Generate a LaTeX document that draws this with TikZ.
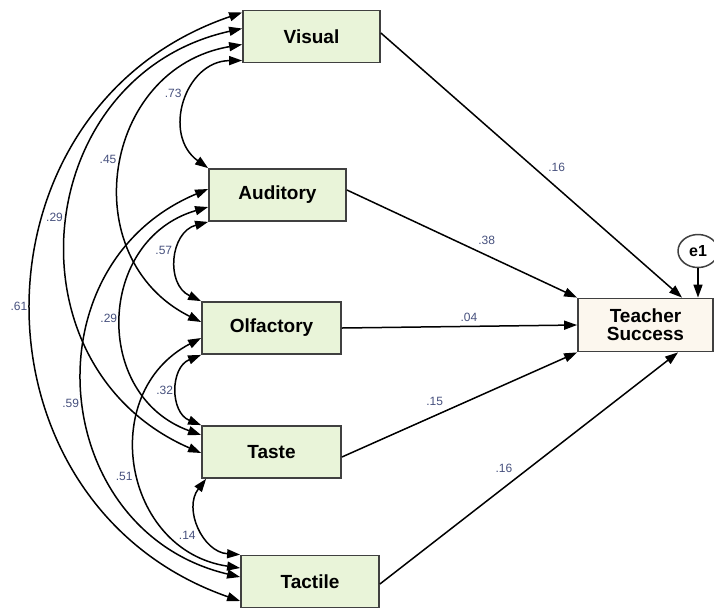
\documentclass[tikz,border=0pt]{standalone}
\usepackage{fontspec}
\setmainfont{Liberation Sans}
\usetikzlibrary{arrows.meta,shapes.geometric}

\definecolor{boxgreen}{RGB}{233,244,217}
\definecolor{boxcream}{RGB}{252,247,238}
\definecolor{lblblue}{RGB}{70,80,125}

\tikzset{
  var/.style={draw=black!75, line width=1.8pt, fill=boxgreen, minimum width=137pt,
    minimum height=52pt, inner sep=0pt, font=\fontsize{19}{18}\selectfont\bfseries},
  dep/.style={var, fill=boxcream, minimum width=135pt, minimum height=53pt, align=center},
  err/.style={draw=black!75, line width=1.5pt, ellipse, fill=white, minimum width=40pt,
    minimum height=33pt, inner sep=0pt, font=\fontsize{16}{16}\selectfont\bfseries},
  reg/.style={-{Triangle[length=13pt,width=9pt]}, line width=1.5pt},
  cov/.style={{Triangle[length=13pt,width=9pt]}-{Triangle[length=13pt,width=9pt]},
    line width=1.5pt, bend right=72, looseness=1.3},
  lbl/.style={font=\fontsize{12}{12}\selectfont, text=lblblue, inner sep=4pt}
}

\begin{document}
\begin{tikzpicture}[node distance=130pt,auto]
\useasboundingbox (0pt,0pt) rectangle (714pt,-611pt);
\node[var] (vis) at (311.5pt,-36.5pt) {Visual};
\node[var] (aud) [below of=vis, xshift=-34pt, yshift=-28.5pt] {Auditory};
\node[var, minimum width=139pt] (olf) [below of=aud, xshift=-6pt, yshift=-3pt] {Olfactory};
\node[var, minimum width=139pt] (tas) [below of=olf, yshift=6pt] {Taste};
\node[var, minimum width=138pt] (tac) [below of=tas, xshift=38.5pt, yshift=0.5pt] {Tactile};
\node[dep] (ts) [node distance=374pt, right of=olf, yshift=3pt] {Teacher\\Success};
\node[err] (e1) [node distance=74pt, above of=ts, xshift=52.5pt] {e1};

% regression paths
\path[reg] ([yshift=3.5pt]vis.east) edge node[lbl, pos=0.54] {.16} ([xshift=36.5pt]ts.north);
\path[reg] ([yshift=5pt]aud.east) edge node[lbl, pos=0.55] {.38} (ts.north west);
\path[reg] (olf.east) edge node[lbl, pos=0.54] {.04} (ts.west);
\path[reg] ([yshift=-5pt]tas.east) edge node[lbl, pos=0.45] {.15} (ts.south west);
\path[reg] ([yshift=-2.5pt]tac.east) edge node[lbl, pos=0.46] {.16} ([xshift=32.5pt]ts.south);
\path[reg] (e1) edge (e1 |- ts.north);

% covariances
\path[cov] ([yshift=-24pt]vis.west) edge node[lbl, swap] {.73} (aud.north west);
\path[cov] ([yshift=-8pt]vis.west) edge node[lbl, swap] {.45} ([yshift=6pt]olf.west);
\path[cov] ([yshift=8pt]vis.west) edge node[lbl, swap] {.29} ([yshift=-1pt]tas.west);
\path[cov, bend right=71, looseness=1.28] ([yshift=24pt]vis.west) edge node[lbl, swap] {.61} ([yshift=-19.5pt]tac.west);
\path[cov, bend right=70, looseness=1.27] (aud.south west) edge node[lbl, swap] {.57} (olf.north west);
\path[cov] ([yshift=-12pt]aud.west) edge node[lbl, swap] {.29} ([yshift=17pt]tas.west);
\path[cov] ([yshift=6pt]aud.west) edge node[lbl, swap] {.59} ([yshift=4.5pt]tac.west);
\path[cov, bend right=68, looseness=1.23] (olf.south west) edge node[lbl, swap] {.32} (tas.north west);
\path[cov] ([yshift=-10pt]olf.west) edge node[lbl, swap] {.51} ([yshift=13.5pt]tac.west);
\path[cov, bend right=62, looseness=1.16] ([xshift=5pt]tas.south west) edge node[lbl, swap] {.14} (tac.north west);
\end{tikzpicture}
\end{document}
